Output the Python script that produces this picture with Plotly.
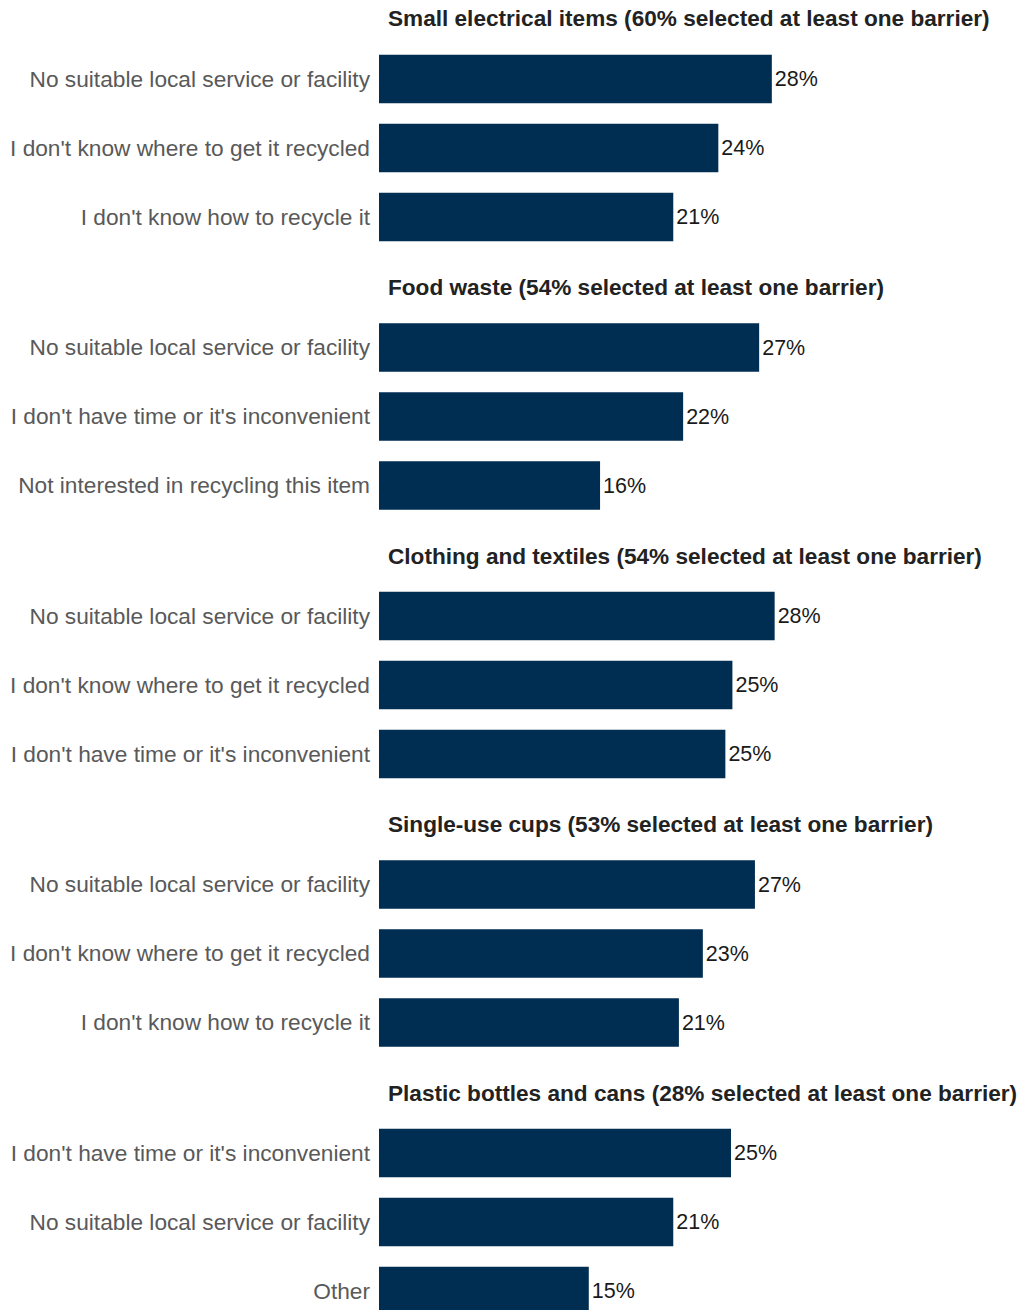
import plotly.graph_objects as go

# Barrier shares (%) per item type, top-to-bottom order within each panel
titles = [
    "Small electrical items (60% selected at least one barrier)",
    "Food waste (54% selected at least one barrier)",
    "Clothing and textiles (54% selected at least one barrier)",
    "Single-use cups (53% selected at least one barrier)",
    "Plastic bottles and cans (28% selected at least one barrier)",
]
barriers = [
    ["No suitable local service or facility", "I don't know where to get it recycled", "I don't know how to recycle it"],
    ["No suitable local service or facility", "I don't have time or it's inconvenient", "Not interested in recycling this item"],
    ["No suitable local service or facility", "I don't know where to get it recycled", "I don't have time or it's inconvenient"],
    ["No suitable local service or facility", "I don't know where to get it recycled", "I don't know how to recycle it"],
    ["I don't have time or it's inconvenient", "No suitable local service or facility", "Other"],
]
shares = [
    [27.9, 24.1, 20.9],
    [27.0, 21.6, 15.7],
    [28.1, 25.1, 24.6],
    [26.7, 23.0, 21.3],
    [25.0, 20.9, 14.9],
]

W, H = 1021, 1310
LEFT = 379
PX_PER_UNIT = 14.08
STEP = 69.0          # px per category row
PANEL_STEP = 268.5   # px between panel tops
FIRST_TOP = 44.5
BAR_COLOR = "#002D52"
FONT = "Liberation Sans, Arial, sans-serif"

xmax = (W - LEFT) / PX_PER_UNIT

fig = go.Figure()
layout = dict(
    width=W, height=H,
    margin=dict(l=LEFT, r=0, t=0, b=0),
    plot_bgcolor="white", paper_bgcolor="white",
    showlegend=False,
    font=dict(family=FONT),
    bargap=0.30,
)
annotations = []

for i, (title, cats, vals) in enumerate(zip(titles, barriers, shares)):
    n = i + 1
    xa = "x" if n == 1 else f"x{n}"
    ya = "y" if n == 1 else f"y{n}"
    top_px = FIRST_TOP + PANEL_STEP * i
    bot_px = min(top_px + STEP * len(cats), H)
    d0 = 1 - bot_px / H
    d1 = 1 - top_px / H
    span = (bot_px - top_px) / STEP  # category units visible

    fig.add_trace(go.Bar(
        x=vals, y=cats, orientation="h",
        marker=dict(color=BAR_COLOR, line=dict(width=0)),
        text=[f"{v:.0f}%" for v in vals],
        textposition="outside",
        textfont=dict(family=FONT, size=21.5, color="#1a1a1a"),
        cliponaxis=False,
        xaxis=xa, yaxis=ya,
        hoverinfo="skip",
    ))

    layout["xaxis" if n == 1 else f"xaxis{n}"] = dict(
        domain=[0, 1], range=[0, xmax], visible=False,
        anchor=ya, fixedrange=True,
    )
    layout["yaxis" if n == 1 else f"yaxis{n}"] = dict(
        domain=[d0, d1], anchor=xa,
        type="category", categoryorder="array", categoryarray=cats,
        range=[-0.5 + span, -0.5],
        showgrid=False, showline=False, zeroline=False, ticks="",
        ticklabelstandoff=8,
        tickfont=dict(family=FONT, size=22.7, color="#595959"),
        fixedrange=True,
    )

    annotations.append(dict(
        text=f"<b>{title}</b>",
        xref="paper", yref="paper",
        x=(386 - LEFT) / (W - LEFT), y=1 - (top_px - 25.5) / H,
        xanchor="left", yanchor="middle", showarrow=False,
        font=dict(family=FONT, size=22.6, color="#222222"),
    ))

layout["annotations"] = annotations
fig.update_layout(**layout)
fig.write_html("out.html")
